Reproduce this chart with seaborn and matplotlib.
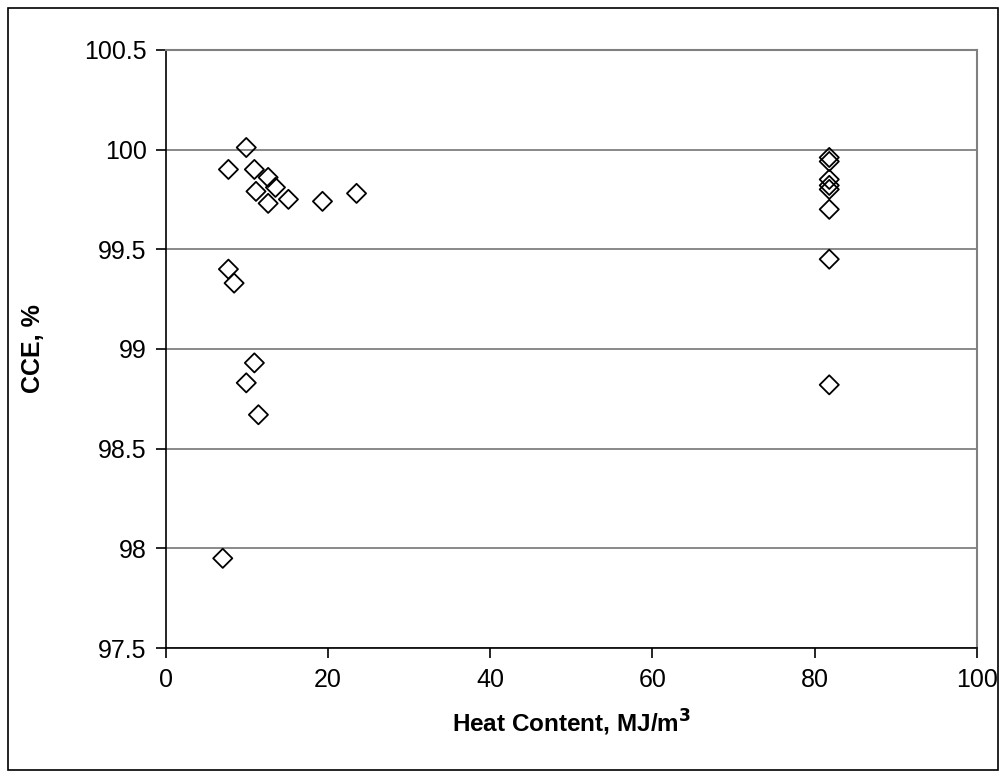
import matplotlib
matplotlib.use("Agg")
import matplotlib.pyplot as plt
import seaborn as sns
import pandas as pd
from matplotlib.patches import Rectangle

heat_content = [9.9, 7.7, 10.9, 12.6, 13.5, 11.1, 12.6, 15.1, 19.3, 23.5,
                7.7, 8.4, 10.9, 9.9, 11.4, 7.0,
                81.8, 81.8, 81.8, 81.8, 81.8, 81.8, 81.8, 81.8]
cce = [100.01, 99.90, 99.90, 99.86, 99.81, 99.79, 99.73, 99.75, 99.74, 99.78,
       99.40, 99.33, 98.93, 98.83, 98.67, 97.95,
       99.96, 99.94, 99.85, 99.82, 99.80, 99.70, 99.45, 98.82]

x_ticks = [0, 20, 40, 60, 80, 100]
y_ticks = [97.5, 98, 98.5, 99, 99.5, 100, 100.5]
y_tick_labels = ["97.5", "98", "98.5", "99", "99.5", "100", "100.5"]

df = pd.DataFrame({"Heat": heat_content, "CCE": cce})

sns.set_style("white")
plt.rcParams['font.family'] = ['Liberation Sans', 'DejaVu Sans']
plt.rcParams['text.color'] = 'black'
plt.rcParams['axes.labelcolor'] = 'black'
plt.rcParams['xtick.color'] = 'black'
plt.rcParams['ytick.color'] = 'black'

fig = plt.figure(figsize=(10.06, 7.78), dpi=100)
ax = fig.add_axes([0.165, 0.167, 0.806, 0.769])

sns.scatterplot(data=df, x="Heat", y="CCE", ax=ax, marker="D", s=95,
                facecolor="none", edgecolor="black", linewidth=1.3, zorder=3,
                clip_on=False)

ax.set_xlim(0, 100)
ax.set_ylim(97.5, 100.5)
ax.set_xticks(x_ticks)
ax.set_yticks(y_ticks)
ax.set_yticklabels(y_tick_labels)
ax.yaxis.grid(True, color="#808080", linewidth=1.3)
ax.xaxis.grid(False)
ax.set_axisbelow(True)
for side in ["top", "right"]:
    ax.spines[side].set_color("#808080")
    ax.spines[side].set_linewidth(1.5)
for side in ["left", "bottom"]:
    ax.spines[side].set_color("black")
    ax.spines[side].set_linewidth(1.2)
ax.tick_params(axis="both", which="major", direction="out", length=7, width=1.2,
               color="black", labelcolor="black", labelsize=18, pad=7,
               left=True, bottom=True)

ax.set_xlabel("Heat Content, MJ/m$^\\mathbf{3}$", fontsize=17.5, fontweight="bold",
              labelpad=12, color="black")
ax.set_ylabel("CCE, %", fontsize=18, fontweight="bold", labelpad=28, color="black")

fig.patches.append(Rectangle((0.008, 0.01), 0.984, 0.98, transform=fig.transFigure,
                             fill=False, edgecolor="black", linewidth=1.2))

fig.savefig("out.png", dpi=100, facecolor="white")
